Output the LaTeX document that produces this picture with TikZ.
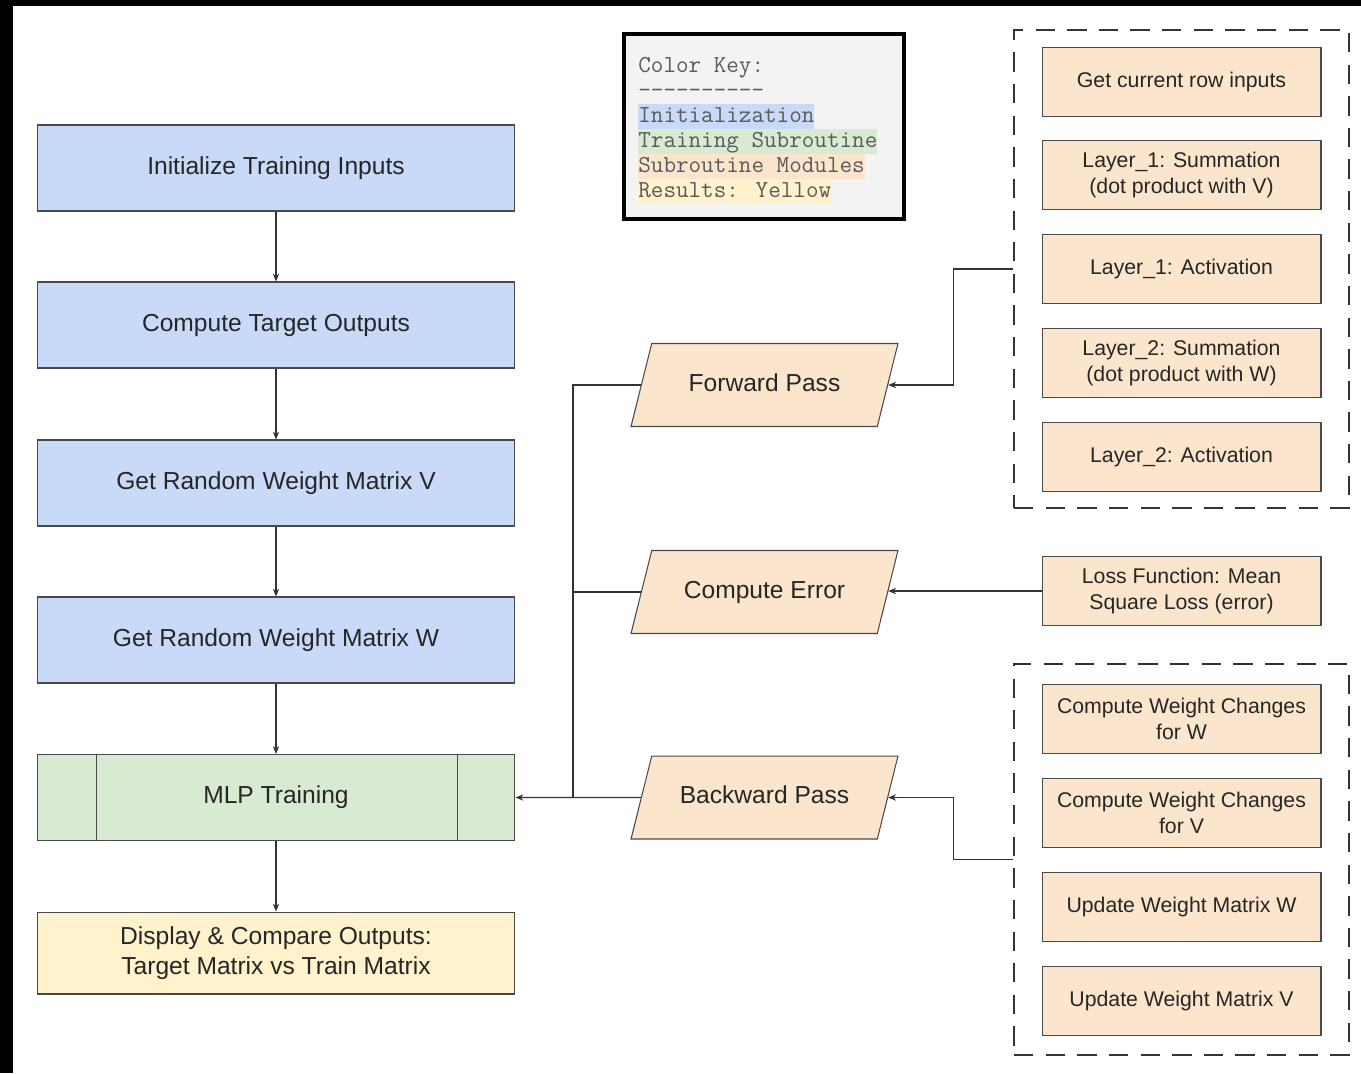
\documentclass[tikz,border=0pt]{standalone}
\usepackage{fontspec}
\setmainfont{Liberation Sans}
\usetikzlibrary{shapes.geometric}
\usetikzlibrary{arrows.meta}
\definecolor{initblue}{HTML}{C9DAF8}
\definecolor{traingreen}{HTML}{D9EAD3}
\definecolor{moduleorange}{HTML}{FCE5CD}
\definecolor{resultyellow}{HTML}{FFF2CC}
\definecolor{keygray}{HTML}{F3F3F3}
\definecolor{edgegray}{HTML}{4A4A4A}
\definecolor{keytext}{HTML}{5A5A5A}
\tikzset{
    mainbox/.style={draw=edgegray,line width=0.6pt,minimum width=9.56cm,minimum height=1.72cm,
        align=center,text=black!85,font=\fontsize{14}{16.8}\selectfont},
    initbox/.style={mainbox,fill=initblue},
    modulebox/.style={draw=edgegray,line width=0.6pt,fill=moduleorange,minimum width=5.58cm,
        minimum height=1.38cm,align=center,text=black!85,font=\fontsize{12.1}{14.5}\selectfont},
    passbox/.style={trapezium,trapezium left angle=76,trapezium right angle=104,
        trapezium stretches body,draw=edgegray,line width=0.6pt,fill=moduleorange,
        minimum width=5.34cm,inner xsep=0pt,inner ysep=0.605cm,text height=0.35cm,text depth=0.1cm,
        text=black!85,font=\fontsize{14}{16.8}\selectfont},
    groupbox/.style={draw=black!80,line width=1.6pt,dash pattern=on 11pt off 7pt,minimum width=6.7cm},
    keyline/.style={anchor=west,inner sep=0pt,text height=0.36cm,text depth=0.14cm,
        text=keytext,font=\ttfamily\fontsize{13.9}{16}\selectfont},
    conn/.style={draw=black!80,line width=0.6pt,-{Stealth[length=4.5pt,width=3.6pt]}}
}
\begin{document}
\begin{tikzpicture}[x=0.02cm,y=-0.02cm]
    \useasboundingbox (0,0) rectangle (1361,1073);
    \fill[black] (0,0) rectangle (1361,6);
    \fill[black] (0,0) rectangle (13,1073);
    % main column
    \node[initbox] (init) at (276,168) {Initialize Training Inputs};
    \node[initbox] (target) at (276,325) {Compute Target Outputs};
    \node[initbox] (randv) at (276,483) {Get Random Weight Matrix V};
    \node[initbox] (randw) at (276,640) {Get Random Weight Matrix W};
    \node[mainbox,fill=traingreen] (mlp) at (276,797.5) {MLP Training};
    \draw[edgegray,line width=0.6pt] ([xshift=1.2cm]mlp.north west) -- ([xshift=1.2cm]mlp.south west);
    \draw[edgegray,line width=0.6pt] ([xshift=-1.16cm]mlp.north east) -- ([xshift=-1.16cm]mlp.south east);
    \node[mainbox,fill=resultyellow,minimum height=1.64cm] (display) at (276,953) {Display \& Compare Outputs:\\Target Matrix vs Train Matrix};
    \draw[conn] (init) -- (target);
    \draw[conn] (target) -- (randv);
    \draw[conn] (randv) -- (randw);
    \draw[conn] (randw) -- (mlp);
    \draw[conn] (mlp) -- (display);
    % colour key
    \node[draw=black,line width=2pt,fill=keygray,minimum width=5.6cm,minimum height=3.7cm] (key) at (764,126.5) {};
    \node[keyline] (keytitle) at (638,66.5) {Color Key:};
    \node[keyline] (keyrule) at (638,91.5) {----------};
    \node[keyline,fill=initblue] (keyinit) at (638,116.5) {Initialization};
    \node[keyline,fill=traingreen] (keytrain) at (638,141.5) {Training Subroutine};
    \node[keyline,fill=moduleorange] (keymod) at (638,166.5) {Subroutine Modules};
    \node[keyline,fill=resultyellow] (keyres) at (638,191.5) {Results: Yellow};
    % passes
    \node[passbox] (fwd) at (764.5,385) {Forward Pass};
    \node[passbox] (err) at (764.5,592) {Compute Error};
    \node[passbox] (bwd) at (764.5,797.5) {Backward Pass};
    % forward modules
    \node[groupbox,minimum height=9.56cm] (fwdgroup) at (1181.5,269) {};
    \node[modulebox] (rowin) at (1181.5,82) {Get current row inputs};
    \node[modulebox] (sumone) at (1181.5,175) {Layer\textunderscore1: Summation\\(dot product with V)};
    \node[modulebox] (actone) at (1181.5,269) {Layer\textunderscore1: Activation};
    \node[modulebox] (sumtwo) at (1181.5,363) {Layer\textunderscore2: Summation\\(dot product with W)};
    \node[modulebox] (acttwo) at (1181.5,457) {Layer\textunderscore2: Activation};
    % loss
    \node[modulebox] (loss) at (1181.5,591) {Loss Function: Mean\\Square Loss (error)};
    % backward modules
    \node[groupbox,minimum height=7.82cm] (bwdgroup) at (1181.5,859.5) {};
    \node[modulebox] (dw) at (1181.5,719) {Compute Weight Changes\\for W};
    \node[modulebox] (dv) at (1181.5,813) {Compute Weight Changes\\for V};
    \node[modulebox] (updw) at (1181.5,907) {Update Weight Matrix W};
    \node[modulebox] (updv) at (1181.5,1001) {Update Weight Matrix V};
    % connectors
    \coordinate (trunk) at (573,797.5);
    \draw[conn] (fwdgroup.west) -- ++(-59,0) |- (fwd.east);
    \draw[conn] (loss.west) -- (loss.west -| err.east);
    \draw[conn] (bwdgroup.west) -- ++(-59,0) |- (bwd.east);
    \draw[draw=black!80,line width=0.6pt] (fwd.west) -| (trunk);
    \draw[draw=black!80,line width=0.6pt] (err.west) -- (err.west -| trunk);
    \draw[conn] (bwd.west) -- (mlp.east);
\end{tikzpicture}
\end{document}
